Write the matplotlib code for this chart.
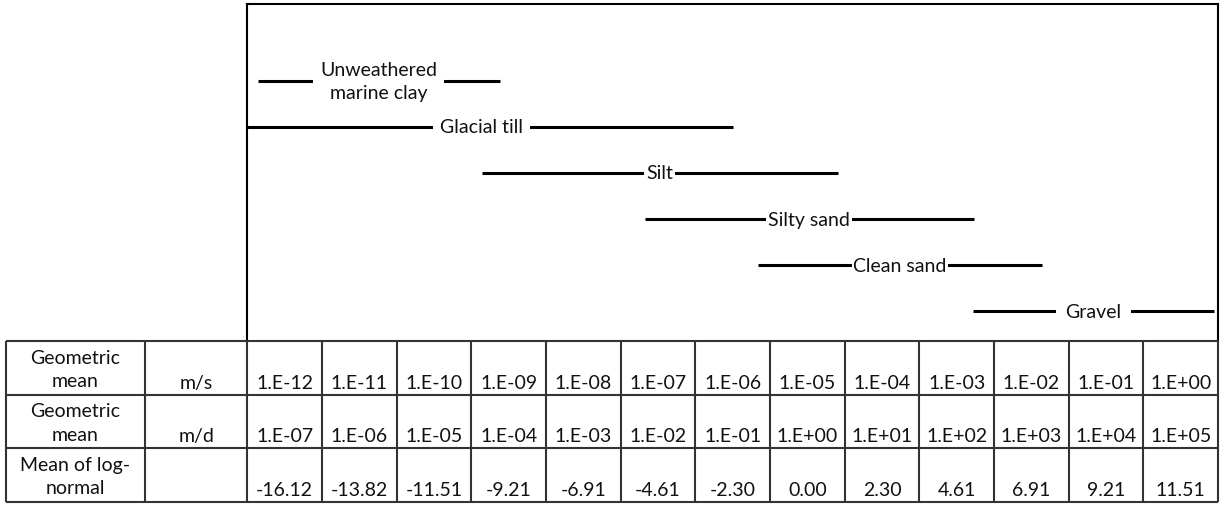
import numpy as np
import matplotlib.pyplot as plt

# Hydraulic conductivity ranges, log10(K) in m/s
soil_types = ['Unweathered\nmarine clay', 'Glacial till', 'Silt', 'Silty sand', 'Clean sand', 'Gravel']
log_k_low = [-12.36, -12.73, -9.36, -7.18, -5.66, -2.78]
log_k_high = [-9.12, -6.00, -4.59, -2.77, -1.86, 0.45]

# Table below the ranges
row_labels = ['Geometric\nmean', 'Geometric\nmean', 'Mean of log-\nnormal']
row_units = ['m/s', 'm/d', '']
k_ms = ['1.E-12', '1.E-11', '1.E-10', '1.E-09', '1.E-08', '1.E-07', '1.E-06',
        '1.E-05', '1.E-04', '1.E-03', '1.E-02', '1.E-01', '1.E+00']
k_md = ['1.E-07', '1.E-06', '1.E-05', '1.E-04', '1.E-03', '1.E-02', '1.E-01',
        '1.E+00', '1.E+01', '1.E+02', '1.E+03', '1.E+04', '1.E+05']
lognormal_mean = [-16.12, -13.82, -11.51, -9.21, -6.91, -4.61, -2.30,
                  0.00, 2.30, 4.61, 6.91, 9.21, 11.51]
decades = [-12, -11, -10, -9, -8, -7, -6, -5, -4, -3, -2, -1, 0]

# white gap around each range label (fraction of font size)
label_pad = [0.36, 0.36, 0.1, 0.1, 0.05, 0.49]

plt.rcParams['font.family'] = ['Lato', 'DejaVu Sans']
FS = 14
TXT = '#111111'

W, H = 1220, 506
fig = plt.figure(figsize=(W / 100, H / 100), dpi=100)

# range chart
box_l, box_r, box_t, box_b = 247.3, 1218, 5, 342
ax = fig.add_axes([box_l / W, 1 - box_b / H, (box_r - box_l) / W, (box_b - box_t) / H])
ax.set_xlim(decades[0] - 0.5, decades[-1] + 0.5)
ax.set_ylim(5.644, -1.663)
ax.set_xticks([])
ax.set_yticks([])
for side in ['top', 'left', 'right']:
    ax.spines[side].set_linewidth(1.5)
    ax.spines[side].set_color('black')
ax.spines['bottom'].set_visible(False)

for i, name in enumerate(soil_types):
    ax.hlines(i, log_k_low[i], log_k_high[i], color='black', lw=2.2, zorder=2)
    mid = (log_k_low[i] + log_k_high[i]) / 2
    ax.text(mid, i, name, ha='center', va='center', fontsize=FS, color=TXT,
            linespacing=1.45, zorder=3,
            bbox=dict(boxstyle=f'square,pad={label_pad[i]}', fc='white', ec='none'))

# table
tab_l, tab_t, tab_b = 6, 342, 503
tx = fig.add_axes([tab_l / W, 1 - tab_b / H, (box_r - tab_l) / W, (tab_b - tab_t) / H])
col_w = [139 / 74.67, 102.3 / 74.67] + [1.0] * len(decades)
edges = np.concatenate([[0], np.cumsum(col_w)])
n_rows = 3
tx.set_xlim(0, edges[-1])
tx.set_ylim(n_rows, 0)
tx.axis('off')

for e in edges:
    tx.vlines(e, 0, n_rows, color='#333333', lw=1.5, clip_on=False)
for r in range(n_rows + 1):
    tx.hlines(r, 0, edges[-1], color='#333333', lw=1.5, clip_on=False)

table_values = [k_ms, k_md, [f'{v:.2f}' for v in lognormal_mean]]
base = 0.13  # baseline offset from row bottom
for r in range(n_rows):
    tx.text((edges[0] + edges[1]) / 2, r + 0.52, row_labels[r], ha='center', va='center',
            fontsize=FS, color=TXT, linespacing=1.45)
    tx.text((edges[1] + edges[2]) / 2, r + 1 - base, row_units[r], ha='center', va='baseline',
            fontsize=FS, color=TXT)
    for c, val in enumerate(table_values[r]):
        tx.text((edges[c + 2] + edges[c + 3]) / 2, r + 1 - base, val, ha='center', va='baseline',
                fontsize=FS, color=TXT)

plt.savefig('out.png', dpi=100)
plt.close()
